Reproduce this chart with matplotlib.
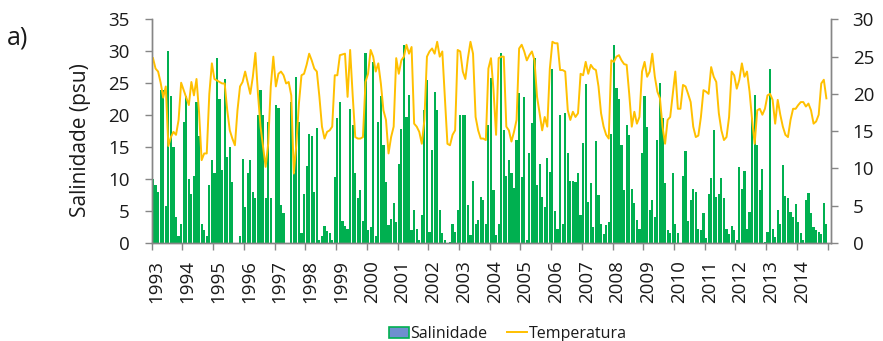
import numpy as np
import matplotlib
matplotlib.use('Agg')
import matplotlib.pyplot as plt
import matplotlib.patches as mpatches
import matplotlib.lines as mlines
import matplotlib.transforms as mtransforms

plt.rcParams['font.family'] = ['Open Sans', 'DejaVu Sans']

# Monthly series, Jan 1993 - Dec 2014 (one row per year)
years = list(range(1993, 2015))

salinidade = [
    10, 9, 8, 24, 24, 5.8, 30, 23, 15, 4, 1, 3,                    # 1993
    19, 23, 10, 7.6, 10.4, 22, 16.7, 3, 2, 1, 9, 13,               # 1994
    10.9, 29, 22.5, 11.4, 25.7, 13.5, 15, 9.6, 0, 0, 1, 13.2,      # 1995
    5.6, 11, 13, 8, 7, 20, 24, 20, 7, 19, 7, 0,                    # 1996
    21.6, 21.2, 5.9, 4.6, 0, 0, 22, 11, 26, 19, 1.5, 7.7,          # 1997
    12, 17, 16.7, 8, 18, 0.5, 1, 2.6, 1.8, 1.6, 0.4, 10.3,         # 1998
    19.5, 22, 3.4, 2.6, 2.2, 21, 18.4, 10.9, 7, 8.3, 3.4, 29.7,    # 1999
    2, 2.5, 28.4, 1, 19, 23, 15.3, 9.6, 2.8, 3.7, 6.2, 3.2,        # 2000
    12.4, 17.9, 31, 19.7, 23.2, 2, 5.1, 2.2, 0.4, 4.3, 20.8, 25.5, # 2001
    1.7, 14.6, 23.7, 20.8, 5.1, 1.5, 0.4, 0, 0.2, 3, 1.7, 5.1,     # 2002
    20, 20, 20, 6, 1.2, 9.7, 2.9, 3.6, 7.2, 6.7, 3, 18.4,          # 2003
    25.8, 8.3, 1.2, 3, 29.7, 17.7, 10.4, 13, 10.9, 8.6, 16.1, 23.4,  # 2004
    10.3, 22.9, 0.4, 14.1, 18.7, 28.9, 9, 12.3, 7.1, 5.6, 13.3, 11.1,  # 2005
    27.2, 5, 2.2, 20.1, 3, 20.3, 14.1, 9.7, 9.7, 9.6, 11, 4.3,     # 2006
    15.7, 24.9, 6.4, 9.3, 2.4, 15.9, 7.5, 3, 1.3, 2.8, 3.3, 17.1,  # 2007
    31, 24.2, 22.6, 15.3, 8.3, 18.4, 16.9, 8.5, 6.3, 3.6, 2.2, 14, # 2008
    23, 18.2, 5.1, 6.7, 4.1, 16.1, 25, 19.5, 9.3, 2, 1.5, 11,      # 2009
    3, 1.5, 0, 10.5, 14.4, 3.4, 6.7, 8.4, 8, 2.2, 2, 4.6,          # 2010
    0.7, 7.7, 10.2, 17.7, 7.2, 7.6, 10.1, 7, 2.2, 1.4, 2.6, 2,     # 2011
    0.4, 11.8, 8.4, 11.2, 2.2, 4.9, 19.6, 23.1, 15.3, 8.3, 11.5, 0.2,  # 2012
    1.7, 27.2, 2.2, 0.9, 5.1, 3, 12.2, 7.3, 7, 4.9, 4.1, 6.1,      # 2013
    3.3, 1.5, 0.4, 6.7, 7.8, 4.6, 2.5, 2, 1.7, 1.4, 6.3, 3,        # 2014
]

temperatura = [
    24.8, 23.4, 23, 21.5, 19.5, 21, 13, 14.2, 14.9, 14.5, 16.5, 21.5,    # 1993
    20.5, 19.5, 18.5, 21.6, 19.8, 22, 17.5, 11.1, 12, 12, 20, 24.1,      # 1994
    22, 21.8, 21.6, 21.4, 21.4, 17.8, 15.1, 14, 13.1, 17.8, 21, 21.6,    # 1995
    23, 21.5, 20, 22.3, 25.5, 20, 15.6, 12.9, 10.2, 13.3, 21, 25,        # 1996
    21, 22.7, 23, 22.5, 21.4, 21.6, 19.8, 9.3, 13.3, 18.7, 22.5, 22.7,   # 1997
    23.9, 25.4, 24.5, 23.4, 23, 19.6, 15.6, 14, 14.9, 15.1, 15.6, 22.5,  # 1998
    22.5, 25.2, 25.3, 25.4, 19.6, 25.9, 19.8, 14.2, 14, 14, 14.2, 21.6,  # 1999
    22.7, 25.9, 25, 23, 24.1, 21.4, 17.8, 16.5, 12, 14.2, 15.6, 24.8,    # 2000
    22.7, 24.5, 25, 26.6, 25.4, 26.3, 16, 15.6, 14.9, 13.3, 16.5, 25,    # 2001
    25.7, 26.1, 25.4, 27, 25, 25.7, 19.6, 13.3, 13.1, 14.5, 15.1, 25.9,  # 2002
    25.7, 23, 22, 24.8, 27, 25.4, 16.9, 15.1, 14, 14, 13.8, 23.4,        # 2003
    24.8, 20.5, 14.5, 24.8, 25, 25, 15.6, 15.1, 13.6, 14.9, 16.5, 26.1,  # 2004
    26.6, 25.7, 24.5, 25.2, 25.7, 24.5, 19.6, 17.4, 15.1, 16.9, 15.6, 23.4,  # 2005
    27, 26.8, 26.8, 23.2, 23.2, 23, 17.8, 16.5, 17.6, 16.9, 17.4, 22.7,  # 2006
    22.5, 24.3, 22.7, 23.9, 23.4, 23.2, 21, 17.4, 15.6, 14.5, 14, 24.5,  # 2007
    24.3, 25, 25.2, 24.5, 24, 23.9, 20, 15.6, 17.6, 16, 16.9, 23,        # 2008
    24.3, 22.3, 23, 25.4, 22.3, 20.3, 19.4, 15.6, 13.3, 16.5, 16.9, 20,  # 2009
    23, 18, 18, 21.2, 21, 20, 18.9, 15.6, 14.2, 14.4, 16.9, 20.5,        # 2010
    20.3, 20, 23.6, 22.3, 21.6, 17.4, 15.1, 13.8, 14.2, 16.9, 23, 22.5,  # 2011
    20.7, 21.9, 24.1, 22.3, 23, 20.3, 16.5, 13.3, 17.8, 18, 17.2, 18,    # 2012
    19.8, 20, 19.2, 16, 19.2, 17.2, 15.6, 14.5, 14.2, 16.5, 18, 18,      # 2013
    18.5, 18.9, 18.9, 18.3, 18.7, 17.8, 16, 16.3, 17.2, 21.4, 21.9, 19.4,  # 2014
]

# month centres in decimal years
t = np.array([y + (m + 0.5) / 12 for y in years for m in range(12)])

green = '#00B050'
gold = '#FFC000'
grey = '#868686'
txt = '#1a1a1a'

fig = plt.figure(figsize=(8.83, 3.41), dpi=100)
ax = fig.add_axes([0.1718, 0.288, 0.7690, 0.655])
ax2 = ax.twinx()

ax.bar(t, salinidade, width=0.85 / 12, color=green, linewidth=0)
ax2.plot(t, temperatura, color=gold, linewidth=1.4)

ax.set_xlim(1993, 2015.1)
ax.set_ylim(0, 35)
ax2.set_ylim(0, 30)
ax.set_yticks(range(0, 36, 5))
ax2.set_yticks(range(0, 31, 5))
ax.set_xticks(years + [2015])
ax.set_xticklabels([str(y) for y in years] + [''], rotation=90)

for a in (ax, ax2):
    a.spines['top'].set_visible(False)
    for s in ('left', 'right', 'bottom'):
        a.spines[s].set_color(grey)
        a.spines[s].set_linewidth(1.0)
    a.tick_params(colors=grey, labelcolor=txt, labelsize=13.5, length=4.8, width=1, pad=11)
ax.tick_params(axis='x', pad=7.5, length=5)

# year labels sit a little to the right of their ticks
shift = mtransforms.ScaledTranslation(0.05, 0, fig.dpi_scale_trans)
for lab in ax.get_xticklabels():
    lab.set_transform(lab.get_transform() + shift)

ax.set_ylabel('Salinidade (psu)', fontsize=15, color=txt)
ax.yaxis.set_label_coords(-0.089, 0.46)
fig.text(0.008, 0.87, 'a)', fontsize=18, color=txt)

sal_handle = mpatches.Patch(facecolor='#6F8FCF', edgecolor=green, linewidth=1.2, label='Salinidade')
temp_handle = mlines.Line2D([], [], color=gold, linewidth=1.4, label='Temperatura')
fig.legend(handles=[sal_handle, temp_handle], loc='lower center', bbox_to_anchor=(0.575, -0.045),
           ncol=2, frameon=False, fontsize=11.5, handlelength=1.25, handletextpad=0.1,
           columnspacing=1.2, labelcolor=txt)

fig.savefig('out.png', dpi=100)
